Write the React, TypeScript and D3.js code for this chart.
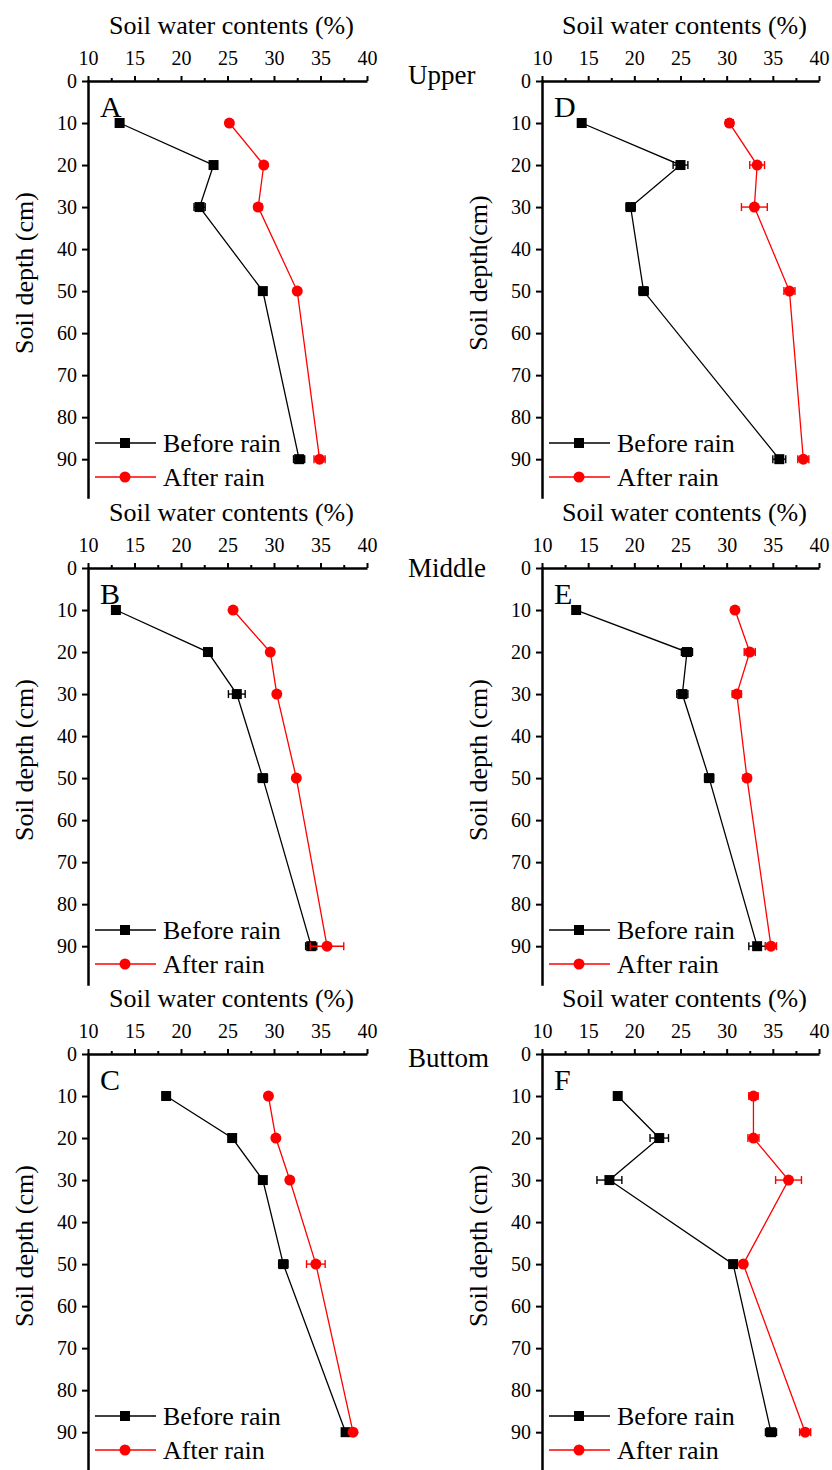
import React, { useEffect, useRef } from 'react';
import * as d3 from 'd3';

// depths sampled (cm) and axis ticks
const depths = [10, 20, 30, 50, 90];
const xTicks = [10, 15, 20, 25, 30, 35, 40];
const xMinorTicks = [12.5, 17.5, 22.5, 27.5, 32.5, 37.5];
const yTicks = [0, 10, 20, 30, 40, 50, 60, 70, 80, 90];
const positions = ['Upper', 'Middle', 'Buttom'];

// soil water contents (%), with error bars
const beforeA = [13.4, 23.5, 22.0, 28.8, 32.7];
const beforeErrA = [0.3, 0.3, 0.6, 0.3, 0.6];
const afterA = [25.2, 28.9, 28.3, 32.5, 34.9];
const afterErrA = [0.3, 0.3, 0.4, 0.3, 0.6];

const beforeB = [13.0, 22.9, 26.0, 28.8, 34.0];
const beforeErrB = [0.3, 0.3, 0.9, 0.5, 0.6];
const afterB = [25.6, 29.6, 30.3, 32.4, 35.7];
const afterErrB = [0.3, 0.3, 0.3, 0.3, 1.8];

const beforeC = [18.4, 25.5, 28.8, 31.0, 37.7];
const beforeErrC = [0.2, 0.3, 0.3, 0.5, 0.3];
const afterC = [29.4, 30.2, 31.7, 34.5, 38.5];
const afterErrC = [0.3, 0.2, 0.3, 1.0, 0.3];

const beforeD = [14.3, 25.0, 19.6, 21.0, 35.7];
const beforeErrD = [0.3, 0.8, 0.5, 0.5, 0.7];
const afterD = [30.3, 33.3, 33.0, 36.8, 38.3];
const afterErrD = [0.4, 0.8, 1.4, 0.6, 0.6];

const beforeE = [13.7, 25.7, 25.2, 28.1, 33.3];
const beforeErrE = [0.3, 0.6, 0.6, 0.5, 0.9];
const afterE = [30.9, 32.5, 31.1, 32.2, 34.8];
const afterErrE = [0.3, 0.6, 0.5, 0.4, 0.6];

const beforeF = [18.2, 22.7, 17.3, 30.7, 34.8];
const beforeErrF = [0.3, 1.0, 1.35, 0.4, 0.6];
const afterF = [32.9, 32.9, 36.7, 31.8, 38.5];
const afterErrF = [0.5, 0.6, 1.4, 0.3, 0.6];

const panels = [
    { letter: 'A', col: 0, row: 0, before: beforeA, beforeErr: beforeErrA, after: afterA, afterErr: afterErrA, yTitle: 'Soil depth (cm)' },
    { letter: 'B', col: 0, row: 1, before: beforeB, beforeErr: beforeErrB, after: afterB, afterErr: afterErrB, yTitle: 'Soil depth (cm)' },
    { letter: 'C', col: 0, row: 2, before: beforeC, beforeErr: beforeErrC, after: afterC, afterErr: afterErrC, yTitle: 'Soil depth (cm)' },
    { letter: 'D', col: 1, row: 0, before: beforeD, beforeErr: beforeErrD, after: afterD, afterErr: afterErrD, yTitle: 'Soil depth(cm)' },
    { letter: 'E', col: 1, row: 1, before: beforeE, beforeErr: beforeErrE, after: afterE, afterErr: afterErrE, yTitle: 'Soil depth (cm)' },
    { letter: 'F', col: 1, row: 2, before: beforeF, beforeErr: beforeErrF, after: afterF, afterErr: afterErrF, yTitle: 'Soil depth (cm)' },
];

// layout
const colLeft = [88, 542];
const colRight = [367, 819];
const rowTop = [81, 568, 1054];
const posLabelDy = [3, 9, 13];
const FONT = '"Liberation Serif", "Times New Roman", serif';

const App = () => {
    const svgRef = useRef(null);

    useEffect(() => {
        const svg = d3.select(svgRef.current);
        svg.selectAll('*').remove();

        panels.forEach(p => {
            const x0 = colLeft[p.col];
            const x1 = colRight[p.col];
            const y0 = rowTop[p.row];
            const x = d3.scaleLinear().domain([10, 40]).range([x0, x1]);
            const y = d3.scaleLinear().domain([0, 99]).range([y0, y0 + 416]);
            const g = svg.append('g');

            // minor ticks on top axis
            g.append('g')
                .attr('transform', `translate(0, ${y0})`)
                .call(d3.axisTop(x).tickValues(xMinorTicks).tickSize(3).tickFormat(() => '').tickSizeOuter(0))
                .call(s => s.select('.domain').remove())
                .call(s => s.selectAll('line').attr('stroke-width', 2));

            // top x axis
            const xa = g.append('g')
                .attr('transform', `translate(0, ${y0})`)
                .call(d3.axisTop(x).tickValues(xTicks).tickSize(5).tickPadding(11).tickSizeOuter(0));
            xa.select('.domain').attr('stroke-width', 2.5);
            xa.selectAll('line').attr('stroke-width', 2);
            xa.selectAll('text').attr('font-family', FONT).attr('font-size', 20).attr('fill', '#000');

            // left y axis
            const ya = g.append('g')
                .attr('transform', `translate(${x0}, 0)`)
                .call(d3.axisLeft(y).tickValues(yTicks).tickSize(6).tickPadding(5).tickSizeOuter(0));
            ya.select('.domain').attr('stroke-width', 2.5).attr('stroke-linecap', 'square');
            ya.selectAll('line').attr('stroke-width', 2);
            ya.selectAll('text').attr('font-family', FONT).attr('font-size', 20).attr('fill', '#000');

            // axis titles
            g.append('text')
                .attr('x', (x0 + x1) / 2 + 4)
                .attr('y', y0 - 47)
                .attr('text-anchor', 'middle')
                .attr('font-family', FONT)
                .attr('font-size', 26)
                .text('Soil water contents (%)');

            g.append('text')
                .attr('transform', `translate(${x0 - 55}, ${y0 + 192}) rotate(-90)`)
                .attr('text-anchor', 'middle')
                .attr('font-family', FONT)
                .attr('font-size', 26)
                .text(p.yTitle);

            // panel letter
            g.append('text')
                .attr('x', x0 + 12)
                .attr('y', y0 + 36)
                .attr('font-family', FONT)
                .attr('font-size', 30)
                .text(p.letter);

            const series = [
                { values: p.before, err: p.beforeErr, color: '#000000', shape: 'square' },
                { values: p.after, err: p.afterErr, color: '#ff0000', shape: 'circle' },
            ];

            series.forEach(s => {
                const pts = depths.map((d, i) => ({ depth: d, v: s.values[i], e: s.err[i] }));
                const line = d3.line()
                    .x(d => x(d.v))
                    .y(d => y(d.depth));

                g.append('path')
                    .datum(pts)
                    .attr('fill', 'none')
                    .attr('stroke', s.color)
                    .attr('stroke-width', 1.3)
                    .attr('d', line);

                // horizontal error bars
                const eb = g.append('g').attr('stroke', s.color).attr('stroke-width', 1.4);
                pts.forEach(d => {
                    const yy = y(d.depth);
                    eb.append('line').attr('x1', x(d.v - d.e)).attr('x2', x(d.v + d.e)).attr('y1', yy).attr('y2', yy);
                    eb.append('line').attr('x1', x(d.v - d.e)).attr('x2', x(d.v - d.e)).attr('y1', yy - 4).attr('y2', yy + 4);
                    eb.append('line').attr('x1', x(d.v + d.e)).attr('x2', x(d.v + d.e)).attr('y1', yy - 4).attr('y2', yy + 4);
                });

                if (s.shape === 'square') {
                    g.selectAll(null)
                        .data(pts)
                        .enter()
                        .append('rect')
                        .attr('x', d => x(d.v) - 5)
                        .attr('y', d => y(d.depth) - 5)
                        .attr('width', 10)
                        .attr('height', 10)
                        .attr('fill', s.color);
                } else {
                    g.selectAll(null)
                        .data(pts)
                        .enter()
                        .append('circle')
                        .attr('cx', d => x(d.v))
                        .attr('cy', d => y(d.depth))
                        .attr('r', 5.5)
                        .attr('fill', s.color);
                }
            });

            // legend
            const legendRows = [
                { label: 'Before rain', color: '#000000', shape: 'square', dy: 362 },
                { label: 'After rain', color: '#ff0000', shape: 'circle', dy: 396 },
            ];
            legendRows.forEach(r => {
                const ly = y0 + r.dy;
                g.append('line')
                    .attr('x1', x0 + 7).attr('x2', x0 + 68)
                    .attr('y1', ly).attr('y2', ly)
                    .attr('stroke', r.color)
                    .attr('stroke-width', 1.5);
                if (r.shape === 'square') {
                    g.append('rect').attr('x', x0 + 32).attr('y', ly - 5).attr('width', 10).attr('height', 10).attr('fill', r.color);
                } else {
                    g.append('circle').attr('cx', x0 + 37).attr('cy', ly).attr('r', 5.5).attr('fill', r.color);
                }
                g.append('text')
                    .attr('x', x0 + 75)
                    .attr('y', ly + 9)
                    .attr('font-family', FONT)
                    .attr('font-size', 26)
                    .text(r.label);
            });
        });

        // slope position labels
        positions.forEach((lab, i) => {
            svg.append('text')
                .attr('x', 408)
                .attr('y', rowTop[i] + posLabelDy[i])
                .attr('font-family', FONT)
                .attr('font-size', 27)
                .text(lab);
        });
    }, []);

    return (
        <svg
            ref={svgRef}
            width={832}
            height={1470}
            style={{ position: 'absolute', left: 0, top: 0, background: '#fff', display: 'block' }}
        />
    );
};

export default App;
